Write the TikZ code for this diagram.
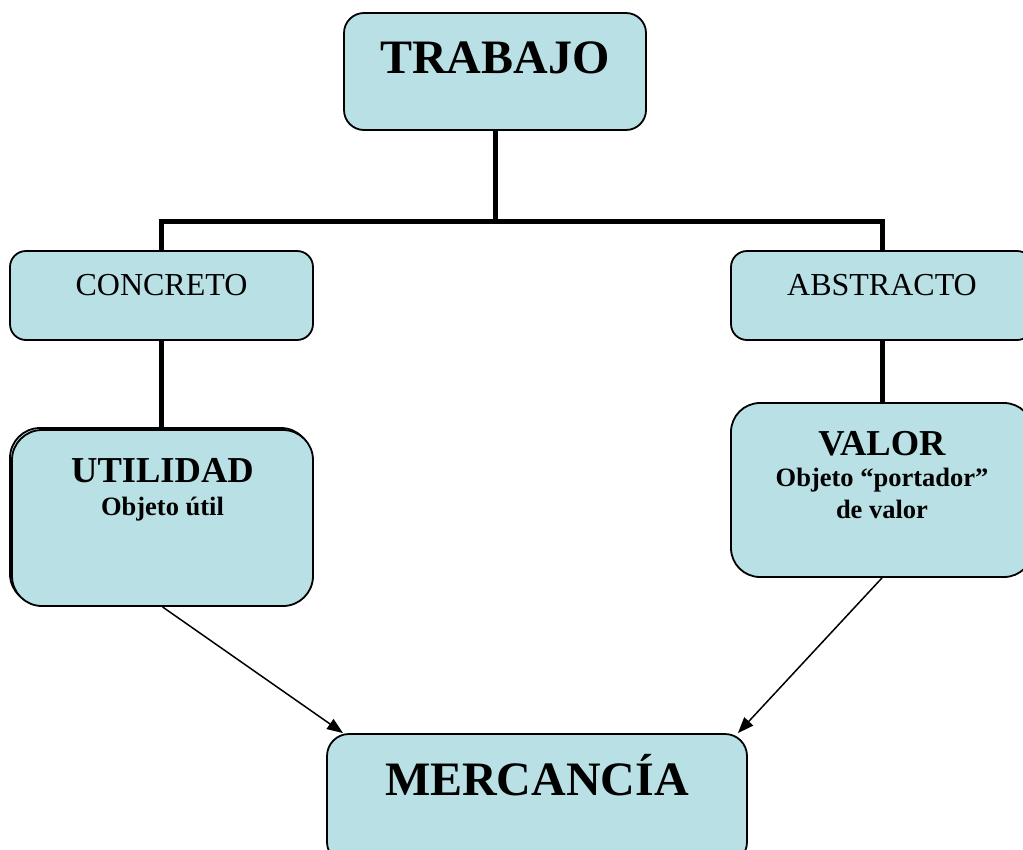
\documentclass[tikz,border=0pt]{standalone}
\usepackage{fontspec}
\setmainfont{Liberation Serif}
\usetikzlibrary{arrows.meta}
\definecolor{boxblue}{RGB}{185,224,228}

\begin{document}
\begin{tikzpicture}[x=1pt, y=-1pt,
                    box/.style = {draw=black, line width=1.8pt, fill=boxblue, rounded corners=#1, align=center, inner sep=0pt},
                    box/.default = 16pt,
                    big/.style = {font=\fontsize{48}{58}\selectfont\bfseries},
                    mid/.style = {font=\fontsize{32}{38}\selectfont},
                    head/.style = {font=\fontsize{36.5}{#1}\selectfont\bfseries},
                    tree/.style = {line width=5pt},
                    arrow/.style = {-{Triangle[length=16pt, width=12pt]}, line width=1.5pt}]
        \useasboundingbox (0,0) rectangle (1023,849);
        \node[box=20pt, big, minimum width=302pt, minimum height=117pt, text height=36pt, text depth=33pt] (trabajo) at (495,71.5) {TRABAJO};
        \node[box, mid, minimum width=303pt, minimum height=89pt, text height=24pt, text depth=25pt] (concreto) at (161.5,295.5) {CONCRETO};
        \node[box, mid, minimum width=302pt, minimum height=89pt, text height=24pt, text depth=25pt] (abstracto) at (882,295.5) {ABSTRACTO};
        \node[box=30pt, minimum width=301pt, minimum height=176pt] (utilback) at (160.5,516) {};
        \node[box=30pt, head=33, minimum width=301pt, minimum height=176pt, text height=60pt, text depth=66pt] (utilidad) at (162.5,518)
            {UTILIDAD\\{\fontsize{26.5}{33}\selectfont Objeto útil}};
        \node[box=29pt, head=31.5, minimum width=302pt, minimum height=174pt, text height=90pt, text depth=34pt] (valor) at (882,490)
            {VALOR\\{\fontsize{26.5}{31.5}\selectfont Objeto “portador”}\\{\fontsize{26.5}{31.5}\selectfont de valor}};
        \node[box=22pt, big, minimum width=420pt, minimum height=130pt, text height=36pt, text depth=44pt] (mercancia) at (537,799) {MERCANCÍA};
        \draw[tree] (trabajo.south) -- ++(0,91) coordinate (fork);
        \draw[tree] (concreto.north) |- (fork) -| (abstracto.north);
        \draw[tree] (concreto.south) -- (concreto.south |- utilidad.north);
        \draw[tree] (abstracto.south) -- (valor.north);
        \draw[arrow] (utilidad.south) -- ([xshift=17pt]mercancia.north west);
        \draw[arrow] (valor.south) -- ([xshift=-10pt]mercancia.north east);
    \end{tikzpicture}
\end{document}
